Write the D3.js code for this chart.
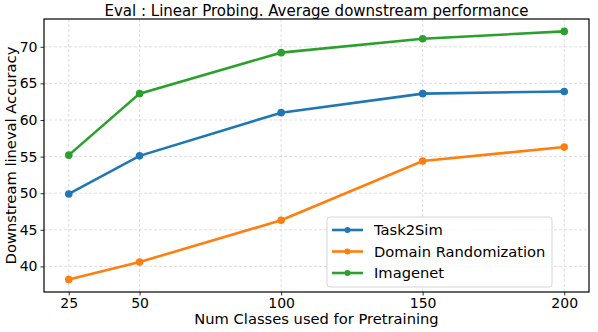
<!DOCTYPE html>
<html>
<head>
<meta charset="utf-8">
<script src="https://cdn.jsdelivr.net/npm/d3@7"></script>
<style>
  body { margin: 0; background: #fff; }
  text { font-family: "DejaVu Sans", sans-serif; fill: #000; }
</style>
</head>
<body>
<div id="chart"></div>
<script>
// chart data
const num_classes = [25, 50, 100, 150, 200];
const task2sim = [49.9, 55.1, 61.0, 63.6, 63.9];
const domain_rand = [38.2, 40.6, 46.3, 54.4, 56.3];
const imagenet = [55.2, 63.6, 69.2, 71.1, 72.1];
const y_ticks = [40, 45, 50, 55, 60, 65, 70];
const series_names = ["Task2Sim", "Domain Randomization", "Imagenet"];

const series = [
  { name: series_names[0], values: task2sim, color: "#1f77b4" },
  { name: series_names[1], values: domain_rand, color: "#ff7f0e" },
  { name: series_names[2], values: imagenet, color: "#2ca02c" }
];

const width = 598, height = 332;
const margin = { top: 19, right: 9, bottom: 40, left: 44 };
const plot_w = width - margin.left - margin.right;
const plot_h = height - margin.top - margin.bottom;

const svg = d3.select("#chart").append("svg")
  .attr("width", width)
  .attr("height", height);

const g = svg.append("g")
  .attr("transform", "translate(" + margin.left + "," + margin.top + ")");

// matplotlib style 5% padding on both axes
const xmin = d3.min(num_classes), xmax = d3.max(num_classes);
const xpad = (xmax - xmin) * 0.05;
const x = d3.scaleLinear().domain([xmin - xpad, xmax + xpad]).range([0, plot_w]);

const all_y = task2sim.concat(domain_rand, imagenet);
const ymin = d3.min(all_y), ymax = d3.max(all_y);
const ypad = (ymax - ymin) * 0.05;
const y = d3.scaleLinear().domain([ymin - ypad, ymax + ypad]).range([plot_h, 0]);

// grid
g.append("g")
  .selectAll("line")
  .data(num_classes)
  .enter()
  .append("line")
  .attr("x1", d => x(d)).attr("x2", d => x(d))
  .attr("y1", 0).attr("y2", plot_h)
  .attr("stroke", "#b0b0b0").attr("stroke-opacity", 0.5)
  .attr("stroke-width", 0.8).attr("stroke-dasharray", "3,2");

g.append("g")
  .selectAll("line")
  .data(y_ticks)
  .enter()
  .append("line")
  .attr("x1", 0).attr("x2", plot_w)
  .attr("y1", d => y(d)).attr("y2", d => y(d))
  .attr("stroke", "#b0b0b0").attr("stroke-opacity", 0.5)
  .attr("stroke-width", 0.8).attr("stroke-dasharray", "3,2");

// axes
const xAxis = g.append("g")
  .attr("transform", "translate(0," + plot_h + ")")
  .call(d3.axisBottom(x).tickValues(num_classes).tickSize(3.5).tickPadding(3));
const yAxis = g.append("g")
  .call(d3.axisLeft(y).tickValues(y_ticks).tickSize(3.5).tickPadding(3));

[xAxis, yAxis].forEach(a => {
  a.select(".domain").remove();
  a.selectAll("text").attr("font-size", "14px").attr("font-family", "DejaVu Sans");
  a.selectAll("line").attr("stroke", "#000").attr("stroke-width", 0.8);
});

// lines + markers
const line = d3.line()
  .x((d, i) => x(num_classes[i]))
  .y(d => y(d));

series.forEach(s => {
  g.append("path")
    .datum(s.values)
    .attr("fill", "none")
    .attr("stroke", s.color)
    .attr("stroke-width", 2.6)
    .attr("d", line);

  g.selectAll(null)
    .data(s.values)
    .enter()
    .append("circle")
    .attr("cx", (d, i) => x(num_classes[i]))
    .attr("cy", d => y(d))
    .attr("r", 3.8)
    .attr("fill", s.color);
});

// frame
g.append("rect")
  .attr("width", plot_w).attr("height", plot_h)
  .attr("fill", "none").attr("stroke", "#000").attr("stroke-width", 1.2);

// legend
const legend = g.append("g").attr("transform", "translate(283,198)");
legend.append("rect")
  .attr("width", 225).attr("height", 70).attr("rx", 3)
  .attr("fill", "#fff").attr("fill-opacity", 0.8)
  .attr("stroke", "#ccc").attr("stroke-width", 0.8);

series.forEach((s, i) => {
  const row = legend.append("g").attr("transform", "translate(0," + (13 + i * 21.5) + ")");
  row.append("line")
    .attr("x1", 5).attr("x2", 36).attr("y1", 0).attr("y2", 0)
    .attr("stroke", s.color).attr("stroke-width", 2.6);
  row.append("circle").attr("cx", 20.5).attr("cy", 0).attr("r", 3).attr("fill", s.color);
  row.append("text")
    .attr("x", 47).attr("y", 5.3)
    .attr("font-size", "14.7px")
    .text(s.name);
});

// titles
svg.append("text")
  .attr("x", margin.left + plot_w / 2).attr("y", 16)
  .attr("text-anchor", "middle").attr("font-size", "15px")
  .text("Eval : Linear Probing. Average downstream performance");

svg.append("text")
  .attr("x", margin.left + plot_w / 2).attr("y", 324)
  .attr("text-anchor", "middle").attr("font-size", "14.7px")
  .text("Num Classes used for Pretraining");

svg.append("text")
  .attr("transform", "translate(16," + (margin.top + plot_h / 2) + ") rotate(-90)")
  .attr("text-anchor", "middle").attr("font-size", "14.7px")
  .text("Downstream lineval Accuracy");
</script>
</body>
</html>
